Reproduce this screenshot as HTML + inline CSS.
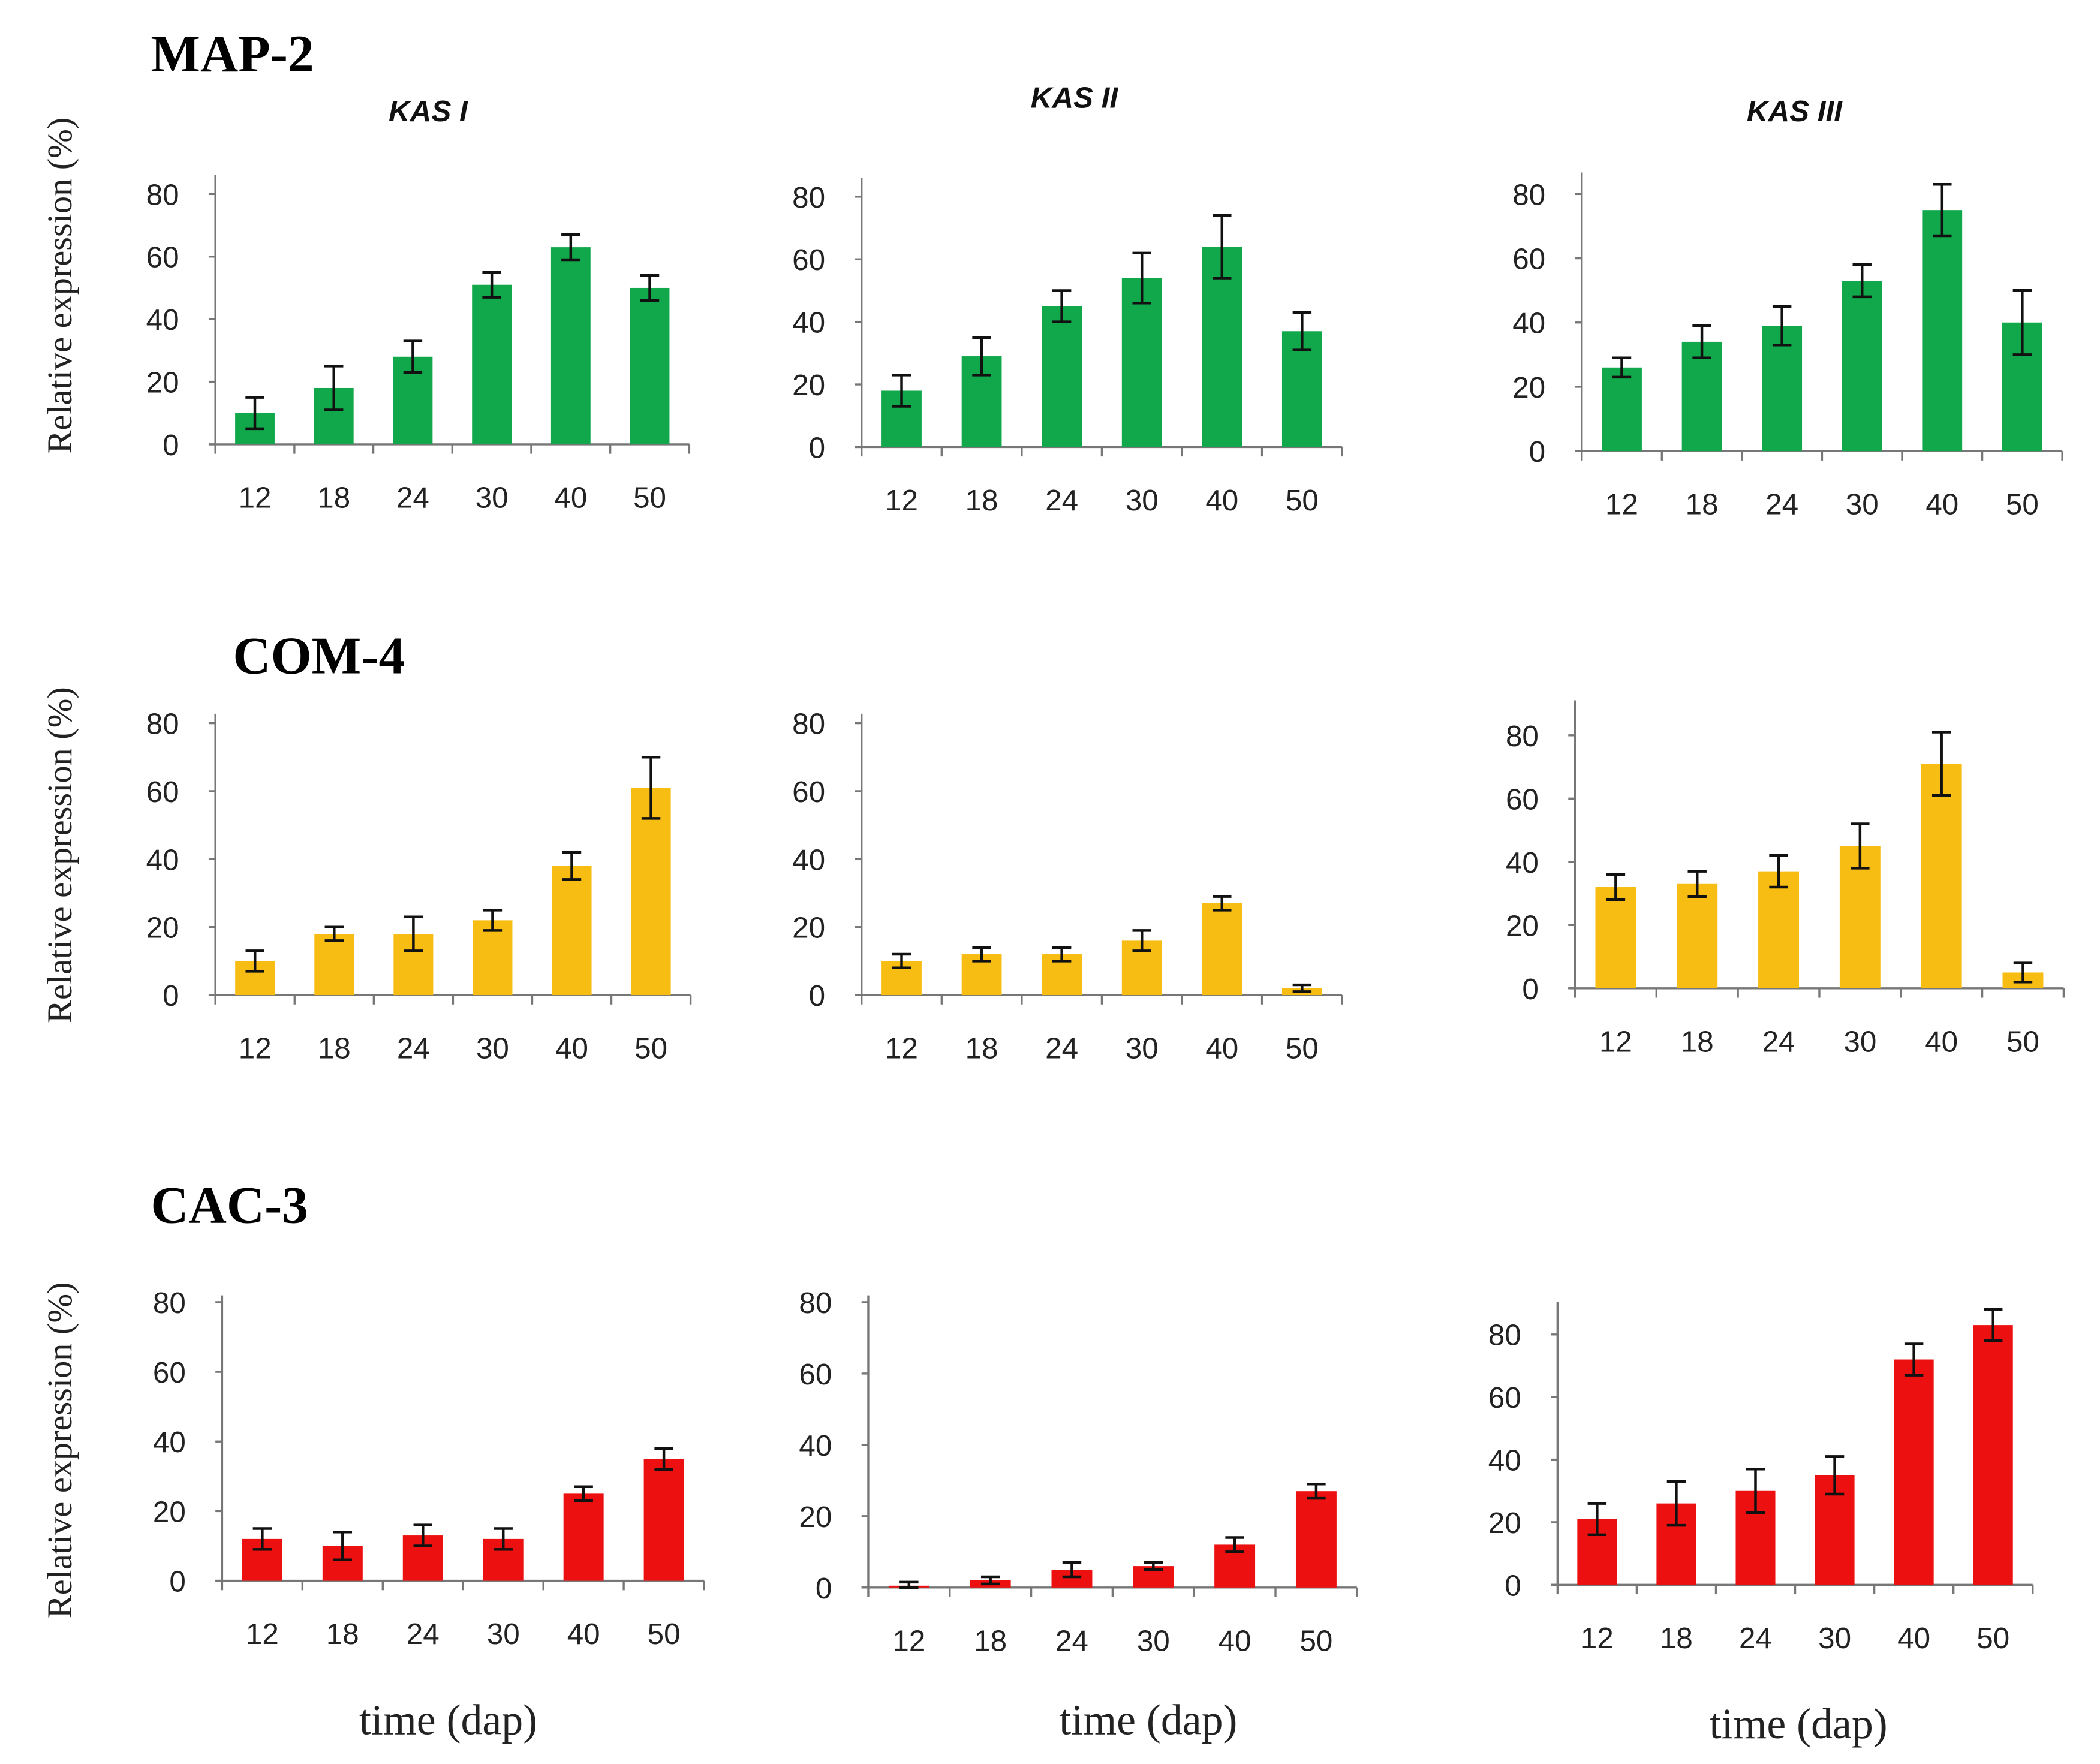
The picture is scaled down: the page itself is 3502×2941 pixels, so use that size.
<!DOCTYPE html>
<html><head><meta charset="utf-8"><style>
html,body{margin:0;padding:0;background:#fff;}
svg{display:block;}
.tick{font-family:"Liberation Sans",sans-serif;font-size:22px;fill:#222;}
.ttl{font-family:"Liberation Sans",sans-serif;font-size:22px;font-weight:bold;font-style:italic;fill:#111;}
.big{font-family:"Liberation Serif",serif;font-size:39px;font-weight:bold;fill:#000;}
.yl{font-family:"Liberation Serif",serif;font-size:26px;fill:#222;}
.xl{font-family:"Liberation Serif",serif;font-size:32px;fill:#222;}
</style></head><body>
<svg id="fig" width="3502" height="2941" viewBox="0 0 1560 1310" xmlns="http://www.w3.org/2000/svg">
<text class="big" x="112" y="53">MAP-2</text>
<text class="big" x="173" y="500">COM-4</text>
<text class="big" x="112" y="908">CAC-3</text>
<text class="ttl" x="318" y="90" text-anchor="middle">KAS I</text>
<text class="ttl" x="798" y="80" text-anchor="middle">KAS II</text>
<text class="ttl" x="1333" y="90" text-anchor="middle">KAS III</text>
<text class="yl" transform="translate(53,212) rotate(-90)" text-anchor="middle">Relative expression (%)</text>
<text class="yl" transform="translate(53,635) rotate(-90)" text-anchor="middle">Relative expression (%)</text>
<text class="yl" transform="translate(53,1077) rotate(-90)" text-anchor="middle">Relative expression (%)</text>
<text class="xl" x="333" y="1288" text-anchor="middle">time (dap)</text>
<text class="xl" x="853" y="1288" text-anchor="middle">time (dap)</text>
<text class="xl" x="1336" y="1291" text-anchor="middle">time (dap)</text>
</svg>
<script>
const categories = ["12","18","24","30","40","50"];
const yTicks = [0,20,40,60,80];
const map2KasI = [10,18,28,51,63,50];
const map2KasIErr = [5,7,5,4,4,4];
const map2KasII = [18,29,45,54,64,37];
const map2KasIIErr = [5,6,5,8,10,6];
const map2KasIII = [26,34,39,53,75,40];
const map2KasIIIErr = [3,5,6,5,8,10];
const com4KasI = [10,18,18,22,38,61];
const com4KasIErr = [3,2,5,3,4,9];
const com4KasII = [10,12,12,16,27,2];
const com4KasIIErr = [2,2,2,3,2,1];
const com4KasIII = [32,33,37,45,71,5];
const com4KasIIIErr = [4,4,5,7,10,3];
const cac3KasI = [12,10,13,12,25,35];
const cac3KasIErr = [3,4,3,3,2,3];
const cac3KasII = [0.5,2,5,6,12,27];
const cac3KasIIErr = [1,1,2,1,2,2];
const cac3KasIII = [21,26,30,35,72,83];
const cac3KasIIIErr = [5,7,7,6,5,5];

const panels = [
 {n:"map2-kas-i",v:map2KasI,e:map2KasIErr,c:"#10a84a",ax:160,y0:330,y80:144,top:130,xe:512},
 {n:"map2-kas-ii",v:map2KasII,e:map2KasIIErr,c:"#10a84a",ax:640,y0:332,y80:146,top:132,xe:997},
 {n:"map2-kas-iii",v:map2KasIII,e:map2KasIIIErr,c:"#10a84a",ax:1175,y0:335,y80:144,top:128,xe:1532},
 {n:"com4-kas-i",v:com4KasI,e:com4KasIErr,c:"#f7bd12",ax:160,y0:739,y80:537,top:530,xe:513},
 {n:"com4-kas-ii",v:com4KasII,e:com4KasIIErr,c:"#f7bd12",ax:640,y0:739,y80:537,top:530,xe:997},
 {n:"com4-kas-iii",v:com4KasIII,e:com4KasIIIErr,c:"#f7bd12",ax:1170,y0:734,y80:546,top:520,xe:1533},
 {n:"cac3-kas-i",v:cac3KasI,e:cac3KasIErr,c:"#ec1010",ax:165,y0:1174,y80:967,top:962,xe:523},
 {n:"cac3-kas-ii",v:cac3KasII,e:cac3KasIIErr,c:"#ec1010",ax:645,y0:1179,y80:967,top:962,xe:1008},
 {n:"cac3-kas-iii",v:cac3KasIII,e:cac3KasIIIErr,c:"#ec1010",ax:1157,y0:1177,y80:991,top:967,xe:1510}
];
const NS="http://www.w3.org/2000/svg";
const svg=document.getElementById('fig');
function mk(t,a,p){const el=document.createElementNS(NS,t);for(const k in a)el.setAttribute(k,a[k]);p.appendChild(el);return el;}
panels.forEach(p=>{
 const g=mk('g',{},svg);
 
 
 const ys=v=>p.y0-(v/80)*(p.y0-p.y80);
 const step=(p.xe-p.ax)/categories.length;
 const xs=i=>p.ax+step*(i+0.5);
 const yAx=mk('line',{x1:p.ax,y1:p.top,x2:p.ax,y2:p.y0,stroke:'#777','stroke-width':1.5},g);
 
 
 const xAx=mk('line',{x1:p.ax-5,y1:p.y0,x2:p.xe,y2:p.y0,stroke:'#777','stroke-width':1.5},g);
 
 
 yTicks.forEach(t=>{
  mk('line',{x1:p.ax-5,y1:ys(t),x2:p.ax,y2:ys(t),stroke:'#777','stroke-width':1.5},g);
  const tx=mk('text',{x:p.ax-27,y:ys(t)+8,'text-anchor':'end',class:'tick'},g);
  tx.textContent=t;
  
  
 });
 for(let i=0;i<=categories.length;i++){
  mk('line',{x1:p.ax+step*i,y1:p.y0,x2:p.ax+step*i,y2:p.y0+7,stroke:'#777','stroke-width':1.5},g);
 }
 const bw=step*0.5;
 categories.forEach((c,i)=>{
  const v=p.v[i],e=p.e[i],x=xs(i);
  const r=mk('rect',{x:x-bw/2,y:ys(v),width:bw,height:p.y0-ys(v),fill:p.c},g);
  
  
  const eb=mk('path',{d:`M${x},${ys(v+e)}V${ys(Math.max(0,v-e))}M${x-7},${ys(v+e)}H${x+7}M${x-7},${ys(Math.max(0,v-e))}H${x+7}`,stroke:'#111','stroke-width':2,fill:'none'},g);
  
  
  const tx=mk('text',{x:x,y:p.y0+47,'text-anchor':'middle',class:'tick'},g);
  tx.textContent=c;
  
  
 });
});
</script>
</body></html>
